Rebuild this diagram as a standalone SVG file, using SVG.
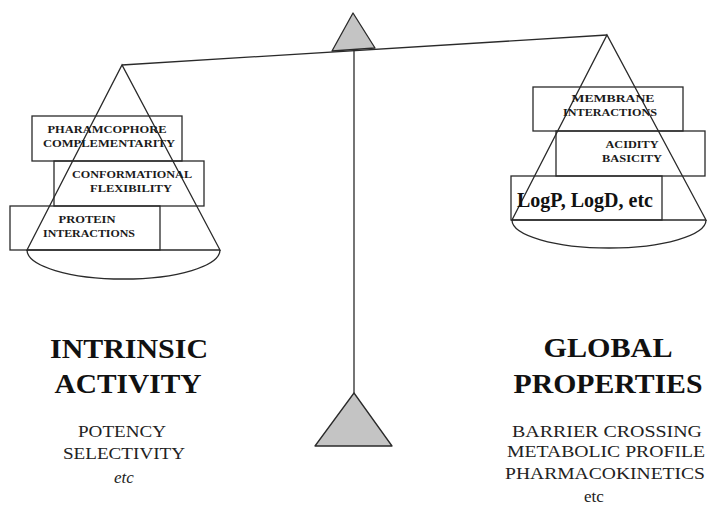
<svg xmlns="http://www.w3.org/2000/svg" width="709" height="509" viewBox="0 0 709 509">
<style>
.ln{fill:none;stroke:#2a2a2a;stroke-width:1.3}
.tri{fill:#c4c4c4;stroke:#2a2a2a;stroke-width:1.3;stroke-linejoin:round}
.box{fill:none;stroke:#2a2a2a;stroke-width:1.3}
text{font-family:'Liberation Serif','Times New Roman','DejaVu Serif',serif}
.sm{font-weight:bold;font-size:11px;fill:#1a1a1a;text-anchor:middle}
.big{font-weight:bold;font-size:27px;fill:#111;text-anchor:middle}
.mid{font-size:17px;fill:#222;text-anchor:middle}
</style>
<rect width="709" height="509" fill="#fff"/>
<g id="connectors">
<line class="ln" x1="122" y1="65" x2="607" y2="35"/>
<line class="ln" x1="354" y1="50" x2="354" y2="393"/>
</g>
<g id="fulcrum-top"><polygon class="tri" points="353,13 332,51 375,48"/></g>
<g id="fulcrum-base"><polygon class="tri" points="354,393 315,446 392,446"/></g>
<g id="left-pan">
<rect class="box" x="32" y="116" width="150" height="45"/>
<rect class="box" x="54" y="161" width="150" height="45"/>
<rect class="box" x="10" y="206" width="150" height="44"/>
<path class="ln" d="M27,250 L122,65 L220,250 Z"/>
<path class="ln" d="M27,250 A96.5,29 0 0 0 220,250"/>
<text class="sm" x="107" y="133" textLength="119" lengthAdjust="spacingAndGlyphs">PHARAMCOPHORE</text>
<text class="sm" x="109" y="147" textLength="132" lengthAdjust="spacingAndGlyphs">COMPLEMENTARITY</text>
<text class="sm" x="132" y="178" textLength="120" lengthAdjust="spacingAndGlyphs">CONFORMATIONAL</text>
<text class="sm" x="131" y="192" textLength="82" lengthAdjust="spacingAndGlyphs">FLEXIBILITY</text>
<text class="sm" x="87" y="223" textLength="57" lengthAdjust="spacingAndGlyphs">PROTEIN</text>
<text class="sm" x="89" y="237" textLength="92" lengthAdjust="spacingAndGlyphs">INTERACTIONS</text>
</g>
<g id="right-pan">
<rect class="box" x="533" y="87" width="150" height="44"/>
<rect class="box" x="556" y="131" width="149" height="45"/>
<rect class="box" x="511" y="176" width="151" height="44"/>
<path class="ln" d="M512,220 L607,35 L706,220 Z"/>
<path class="ln" d="M512,220 A97,28 0 0 0 706,220"/>
<text class="sm" x="613" y="102" textLength="83" lengthAdjust="spacingAndGlyphs">MEMBRANE</text>
<text class="sm" x="610" y="116" textLength="94" lengthAdjust="spacingAndGlyphs">INTERACTIONS</text>
<text class="sm" x="632" y="148" textLength="53" lengthAdjust="spacingAndGlyphs">ACIDITY</text>
<text class="sm" x="632" y="162" textLength="60" lengthAdjust="spacingAndGlyphs">BASICITY</text>
<text x="585" y="207" font-size="20" font-weight="bold" fill="#111" text-anchor="middle" textLength="136" lengthAdjust="spacingAndGlyphs">LogP, LogD, etc</text>
</g>
<g id="left-labels">
<text class="big" x="129" y="358" textLength="158" lengthAdjust="spacingAndGlyphs">INTRINSIC</text>
<text class="big" x="128" y="393" textLength="147" lengthAdjust="spacingAndGlyphs">ACTIVITY</text>
<text class="mid" x="122" y="437" textLength="88" lengthAdjust="spacingAndGlyphs">POTENCY</text>
<text class="mid" x="124" y="459" textLength="122" lengthAdjust="spacingAndGlyphs">SELECTIVITY</text>
<text class="mid" x="124" y="483" font-style="italic">etc</text>
</g>
<g id="right-labels">
<text class="big" x="608" y="357" textLength="129" lengthAdjust="spacingAndGlyphs">GLOBAL</text>
<text class="big" x="608" y="393" textLength="189" lengthAdjust="spacingAndGlyphs">PROPERTIES</text>
<text class="mid" x="607" y="437" textLength="190" lengthAdjust="spacingAndGlyphs">BARRIER CROSSING</text>
<text class="mid" x="606" y="457" textLength="198" lengthAdjust="spacingAndGlyphs">METABOLIC PROFILE</text>
<text class="mid" x="605" y="479" textLength="200" lengthAdjust="spacingAndGlyphs">PHARMACOKINETICS</text>
<text class="mid" x="594" y="502">etc</text>
</g>
</svg>
